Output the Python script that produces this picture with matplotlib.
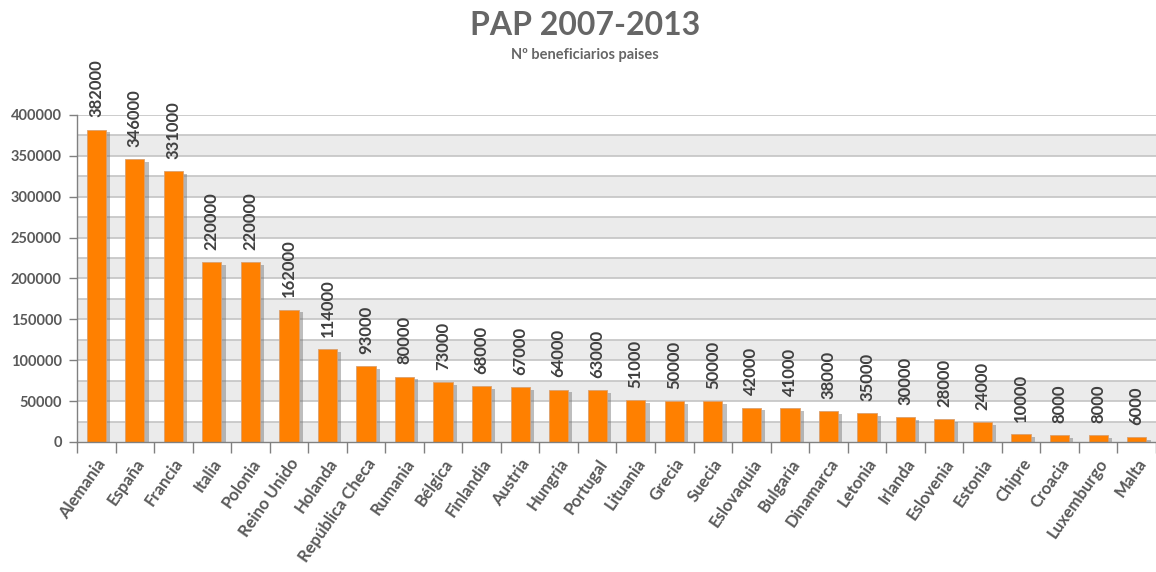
import matplotlib
matplotlib.use("Agg")
import matplotlib.pyplot as plt
import matplotlib.patheffects as pe
import numpy as np

paises = ["Alemania", "España", "Francia", "Italia", "Polonia", "Reino Unido",
          "Holanda", "República Checa", "Rumania", "Bélgica", "Finlandia",
          "Austria", "Hungria", "Portugal", "Lituania", "Grecia", "Suecia",
          "Eslovaquia", "Bulgaria", "Dinamarca", "Letonia", "Irlanda",
          "Eslovenia", "Estonia", "Chipre", "Croacia", "Luxemburgo", "Malta"]
beneficiarios = [382000, 346000, 331000, 220000, 220000, 162000, 114000, 93000,
                 80000, 73000, 68000, 67000, 64000, 63000, 51000, 50000, 50000,
                 42000, 41000, 38000, 35000, 30000, 28000, 24000, 10000, 8000,
                 8000, 6000]
yticks = list(range(0, 400001, 50000))

plt.rcParams["font.family"] = ["Lato", "DejaVu Sans"]
text_color = "#595959"

fig = plt.figure(figsize=(11.56, 5.72), dpi=100)
ax = fig.add_axes([0.0666, 0.2273, 0.9334, 0.5717])

x = np.arange(len(paises))
ax.set_xlim(-0.5, len(paises) - 0.5)
ax.set_ylim(0, 400000)

# alternating bands every 25000
for lo in range(0, 400000, 50000):
    ax.axhspan(lo, lo + 25000, color="#EBEBEB", zorder=0, lw=0)
for y in range(25000, 400001, 25000):
    ax.axhline(y, color="#C4C4C4", lw=1.2, zorder=1)

bars = ax.bar(x, beneficiarios, width=0.5, color="#FF8000",
              edgecolor="#D9A070", linewidth=0.6, zorder=3)
for b in bars:
    b.set_path_effects([pe.SimplePatchShadow(offset=(3, -2), shadow_rgbFace="#707070", alpha=0.45),
                        pe.Normal()])

for xi, v in zip(x, beneficiarios):
    ax.text(xi, v + 15000, str(v), rotation=90, ha="center", va="bottom",
            fontsize=12, color="#404040", fontweight="bold")

ax.set_yticks(yticks)
ax.set_yticklabels([str(t) for t in yticks], fontsize=10.5, fontweight="bold", color=text_color)
ax.set_xticks(np.arange(-0.5, len(paises), 1), minor=False)
ax.set_xticklabels([])
ax.set_xticks(x, minor=True)
ax.set_xticklabels(paises, minor=True, rotation=55, ha="right", rotation_mode="anchor",
                   fontsize=12, fontweight="bold", color=text_color)
ax.tick_params(axis="x", which="minor", length=0, pad=10)
ax.tick_params(axis="x", which="major", length=8, color="#808080", width=1)
ax.tick_params(axis="y", length=6, color="#808080", width=1, pad=5)

for s in ["top", "right"]:
    ax.spines[s].set_visible(False)
for s in ["left", "bottom"]:
    ax.spines[s].set_color("#808080")
    ax.spines[s].set_linewidth(1)
    ax.spines[s].set_zorder(4)

fig.text(0.506, 0.955, "PAP 2007-2013", ha="center", va="center",
         fontsize=23, fontweight="bold", color="#666666")
fig.text(0.506, 0.903, "Nº beneficiarios paises", ha="center", va="center",
         fontsize=10.5, fontweight="bold", color="#666666")

fig.savefig("out.png", dpi=100)
